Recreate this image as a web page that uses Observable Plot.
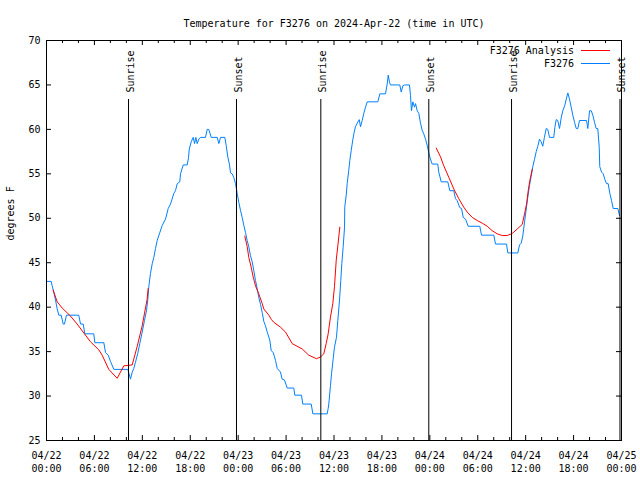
<!DOCTYPE html>
<html><head><meta charset="utf-8">
<script src="https://cdn.jsdelivr.net/npm/d3@7"></script>
<script src="https://cdn.jsdelivr.net/npm/@observablehq/plot@0.6"></script>
<style>html,body{margin:0;padding:0;background:#fff}svg{display:block}</style>
</head><body><div id="chart"></div>
<script>
const START = "2024-04-22T00:00:00Z";
const titleText = "Temperature for F3276 on 2024-Apr-22 (time in UTC)";
const yLabel = "degrees F";

// Observed F3276 (hours since START, degF)
const obsHours = [0,0.59,0.71,0.91,1.13,1.34,1.54,1.84,2.09,2.25,2.50,4.04,4.26,4.60,4.80,5.92,6.05,7.18,7.39,7.73,8.01,8.43,10.18,10.52,10.73,10.93,11.14,11.43,11.68,11.98,12.27,12.52,12.68,12.81,13.02,13.24,13.44,13.65,13.86,14.19,14.49,14.90,15.24,15.53,15.94,16.15,16.37,16.69,16.78,17.12,17.62,17.78,17.88,18.12,18.37,18.54,18.70,18.87,19.07,19.28,19.91,20.12,20.32,20.62,21.38,21.58,21.79,22.33,22.50,22.70,22.92,23.04,23.25,23.45,23.67,23.88,24.08,24.29,24.50,24.71,24.92,25.13,25.33,25.54,25.76,25.96,26.17,26.38,26.58,26.80,27.01,27.21,27.42,27.64,27.96,28.14,28.39,28.68,28.89,29.30,29.51,29.80,30.14,30.97,31.09,31.93,32.09,33.15,33.35,35.15,35.27,35.35,35.56,35.69,35.90,36.06,36.31,36.48,36.69,36.85,36.98,37.15,37.32,37.35,37.53,37.65,37.85,37.98,38.15,38.35,38.53,38.69,38.91,39.16,39.32,39.53,39.73,39.95,40.16,41.49,41.74,42.45,42.66,42.79,42.95,43.08,44.24,44.42,44.62,44.83,45.45,45.58,45.70,45.87,46.08,46.21,46.42,46.62,46.83,47.04,47.24,47.46,47.67,47.87,47.99,48.29,48.99,49.12,49.42,50.25,50.50,51.00,51.21,51.42,51.75,51.97,52.18,52.47,52.80,54.26,54.47,56.01,56.22,57.60,57.77,59.02,59.23,59.44,59.64,59.86,60.07,60.27,60.48,60.69,60.89,61.10,61.32,61.52,61.73,61.94,62.14,62.35,62.57,62.77,62.98,63.52,63.65,63.82,64.02,64.24,64.45,64.65,64.90,65.08,65.28,65.49,65.70,65.90,66.12,66.33,66.53,66.74,67.62,67.78,68.00,68.21,68.41,68.62,68.83,69.03,69.21,69.28,69.50,69.71,69.91,70.12,70.33,70.54,70.75,70.96,71.54,71.75];
const obsTemps = [42.9,42.9,42.4,41.7,40.8,39.8,39.1,39.1,38.1,38.1,39.1,39.1,38.1,38.1,37.0,37.0,36.0,36.0,34.9,34.6,33.9,33.0,33.0,31.9,32.7,33.1,33.8,34.8,35.9,37.2,38.5,39.6,40.8,42.3,43.8,44.9,45.6,46.6,47.5,48.4,49.2,49.9,51.1,51.6,52.8,53.1,53.9,54.1,55.0,56.0,56.0,56.8,57.8,58.6,59.1,58.4,59.1,58.4,58.9,59.1,59.1,60.0,60.0,59.1,59.1,58.4,59.1,59.1,58.2,56.9,56.0,55.1,55.0,54.6,53.9,52.8,51.8,50.9,50.1,49.2,48.4,47.5,46.8,45.8,45.1,44.1,43.0,42.1,41.1,40.3,39.4,38.4,37.9,37.2,36.3,35.1,34.9,34.0,33.1,32.7,31.9,31.8,30.9,30.9,30.1,30.1,29.1,29.1,28.0,28.0,28.6,29.1,31.2,32.5,34.2,35.5,36.6,38.5,40.8,43.0,44.9,46.8,49.0,51.3,52.6,53.9,55.4,56.5,57.6,58.8,59.7,60.3,60.7,61.1,60.3,61.0,61.8,62.5,63.1,63.1,64.0,64.0,65.1,66.1,65.3,65.0,65.0,64.2,64.9,65.0,65.0,63.8,62.1,63.1,62.5,62.9,62.1,61.8,60.7,59.9,59.5,58.9,58.2,57.4,56.9,56.1,56.1,55.2,54.1,54.1,53.1,53.1,52.2,52.0,51.2,51.1,50.1,49.9,49.1,49.1,48.1,48.1,47.1,47.1,46.1,46.1,47.0,47.2,48.0,49.6,51.0,52.4,53.7,54.7,55.8,56.6,57.5,58.1,58.9,58.6,58.1,59.1,60.1,60.0,59.1,59.1,60.2,61.1,61.0,60.1,61.3,62.1,62.7,63.4,64.1,63.4,62.5,61.6,60.8,60.1,60.1,61.0,61.0,60.1,62.1,62.1,61.6,60.8,60.1,60.1,58.0,55.8,55.2,55.0,54.4,53.9,53.9,52.8,52.0,51.1,51.1,50.3];

// F3276 Analysis (null = gap between runs)
const anaHours = [0.84,1.34,1.97,3.00,3.84,4.67,5.51,6.55,6.97,7.80,8.85,9.68,10.73,11.36,11.98,12.60,12.73, null,
  24.83,25.13,25.33,25.63,25.88,26.17,26.58,27.01,27.21,27.84,28.17,28.46,29.30,29.93,30.77,31.59,32.02,32.84,33.81,34.31,34.72,35.02,35.27,35.56,35.85,36.06,36.28,36.48,36.73, null,
  48.80,49.34,49.75,50.38,51.00,51.63,52.25,52.68,53.31,53.93,54.56,55.19,55.81,56.44,57.07,57.69,58.32,58.95,59.57,59.86,60.11,60.32,60.52,60.82];
const anaTemps = [41.9,40.6,39.9,39.0,38.1,37.1,36.1,35.2,34.6,33.0,32.0,33.4,33.5,35.6,37.9,40.9,42.1, null,
  48.0,46.8,45.6,44.5,43.4,42.4,41.5,40.4,39.8,39.1,38.6,38.3,37.75,37.2,35.9,35.5,35.3,34.6,34.2,34.4,34.75,35.9,37.0,38.9,40.4,42.3,45.3,46.9,49.0, null,
  57.9,56.9,55.9,54.6,53.3,52.2,51.25,50.7,50.1,49.75,49.45,49.1,48.6,48.25,48.06,48.06,48.3,48.8,49.3,50.5,51.6,53.1,54.25,55.5];

// Sun events
const sunHours = [10.27, 23.79, 34.35, 47.87, 58.23, 71.81];
const sunLabels = ["Sunrise","Sunset","Sunrise","Sunset","Sunrise","Sunset"];

// Axis ticks
const xTickHours = [0,6,12,18,24,30,36,42,48,54,60,66,72];
const xTickLabels = ["04/22\n00:00","04/22\n06:00","04/22\n12:00","04/22\n18:00","04/23\n00:00","04/23\n06:00","04/23\n12:00","04/23\n18:00","04/24\n00:00","04/24\n06:00","04/24\n12:00","04/24\n18:00","04/25\n00:00"];
const xMinorHours = [2,4,8,10,14,16,20,22,26,28,32,34,38,40,44,46,50,52,56,58,62,64,68,70];
const yTicks = [25,30,35,40,45,50,55,60,65,70];

const legendNames = ["F3276 Analysis", "F3276"];
const colors = {ana: "#ff0000", obs: "#0080ff"};

const t0 = Date.parse(START);
const toDate = h => h == null ? null : new Date(t0 + h * 3600e3);
const obs = obsHours.map((h, i) => ({t: toDate(h), v: obsTemps[i]}));
const ana = anaHours.map((h, i) => ({t: toDate(h), v: anaTemps[i]}));
const sun = sunHours.map((h, i) => ({t: toDate(h), label: sunLabels[i]}));
const xTicks = xTickHours.map(toDate);
const xMinor = xMinorHours.map(toDate);
const lblMap = new Map(xTicks.map((d, i) => [+d, xTickLabels[i]]));

const W = 640, H = 480, mt = 40, mr = 19, mb = 40, ml = 46;
const fw = W - ml - mr, fh = H - mt - mb;

const chart = Plot.plot({
  width: W, height: H,
  marginTop: mt, marginRight: mr, marginBottom: mb, marginLeft: ml,
  style: {fontFamily: "DejaVu Sans Mono", fontSize: "10px", background: "#fff", color: "#000"},
  x: {type: "utc", domain: [toDate(0), toDate(72)]},
  y: {domain: [25, 70]},
  marks: [
    Plot.line(obs, {x: "t", y: "v", stroke: colors.obs, strokeWidth: 1}),
    Plot.line(ana, {x: "t", y: "v", stroke: colors.ana, strokeWidth: 1}),
    Plot.ruleX(sun, {x: "t", stroke: "#000", strokeWidth: 1, insetTop: 59}),
    Plot.text(sun, {x: "t", text: "label", frameAnchor: "top", rotate: -90, textAnchor: "start", dy: 52, dx: -2, fill: "#000"}),
    Plot.frame({stroke: "#000"}),
    Plot.tickX(xTicks, {x: d => d, stroke: "#000", insetTop: fh - 5}),
    Plot.tickX(xTicks, {x: d => d, stroke: "#000", insetBottom: fh - 5}),
    Plot.tickX(xMinor, {x: d => d, stroke: "#000", insetTop: fh - 3}),
    Plot.tickX(xMinor, {x: d => d, stroke: "#000", insetBottom: fh - 3}),
    Plot.tickY(yTicks, {y: d => d, stroke: "#000", insetRight: fw - 5}),
    Plot.tickY(yTicks, {y: d => d, stroke: "#000", insetLeft: fw - 5}),
    Plot.axisX(xTicks, {tickSize: 0, tickPadding: 9, tickFormat: d => lblMap.get(+d), lineHeight: 1.3, label: null, fill: "#000"}),
    Plot.axisY(yTicks, {tickSize: 0, tickPadding: 6, label: null, fill: "#000"}),
    Plot.text([titleText], {text: d => d, frameAnchor: "top", dy: -21, fill: "#000"}),
    Plot.text([yLabel], {text: d => d, frameAnchor: "left", rotate: -90, dx: -36, fill: "#000"})
  ]
});

// Legend (gnuplot-style, top right inside plot)
const svg = d3.select(chart);
const leg = svg.append("g").attr("font-family", "DejaVu Sans Mono").attr("font-size", 10);
[[legendNames[0], colors.ana, 50.5], [legendNames[1], colors.obs, 63.5]].forEach(([name, c, y]) => {
  leg.append("text").attr("x", 574).attr("y", y).attr("dy", "0.32em").attr("text-anchor", "end").attr("fill", "#000").text(name);
  leg.append("line").attr("x1", 581).attr("x2", 610).attr("y1", y).attr("y2", y).attr("stroke", c).attr("stroke-width", 1);
});

document.getElementById("chart").appendChild(chart);
</script>
</body></html>
